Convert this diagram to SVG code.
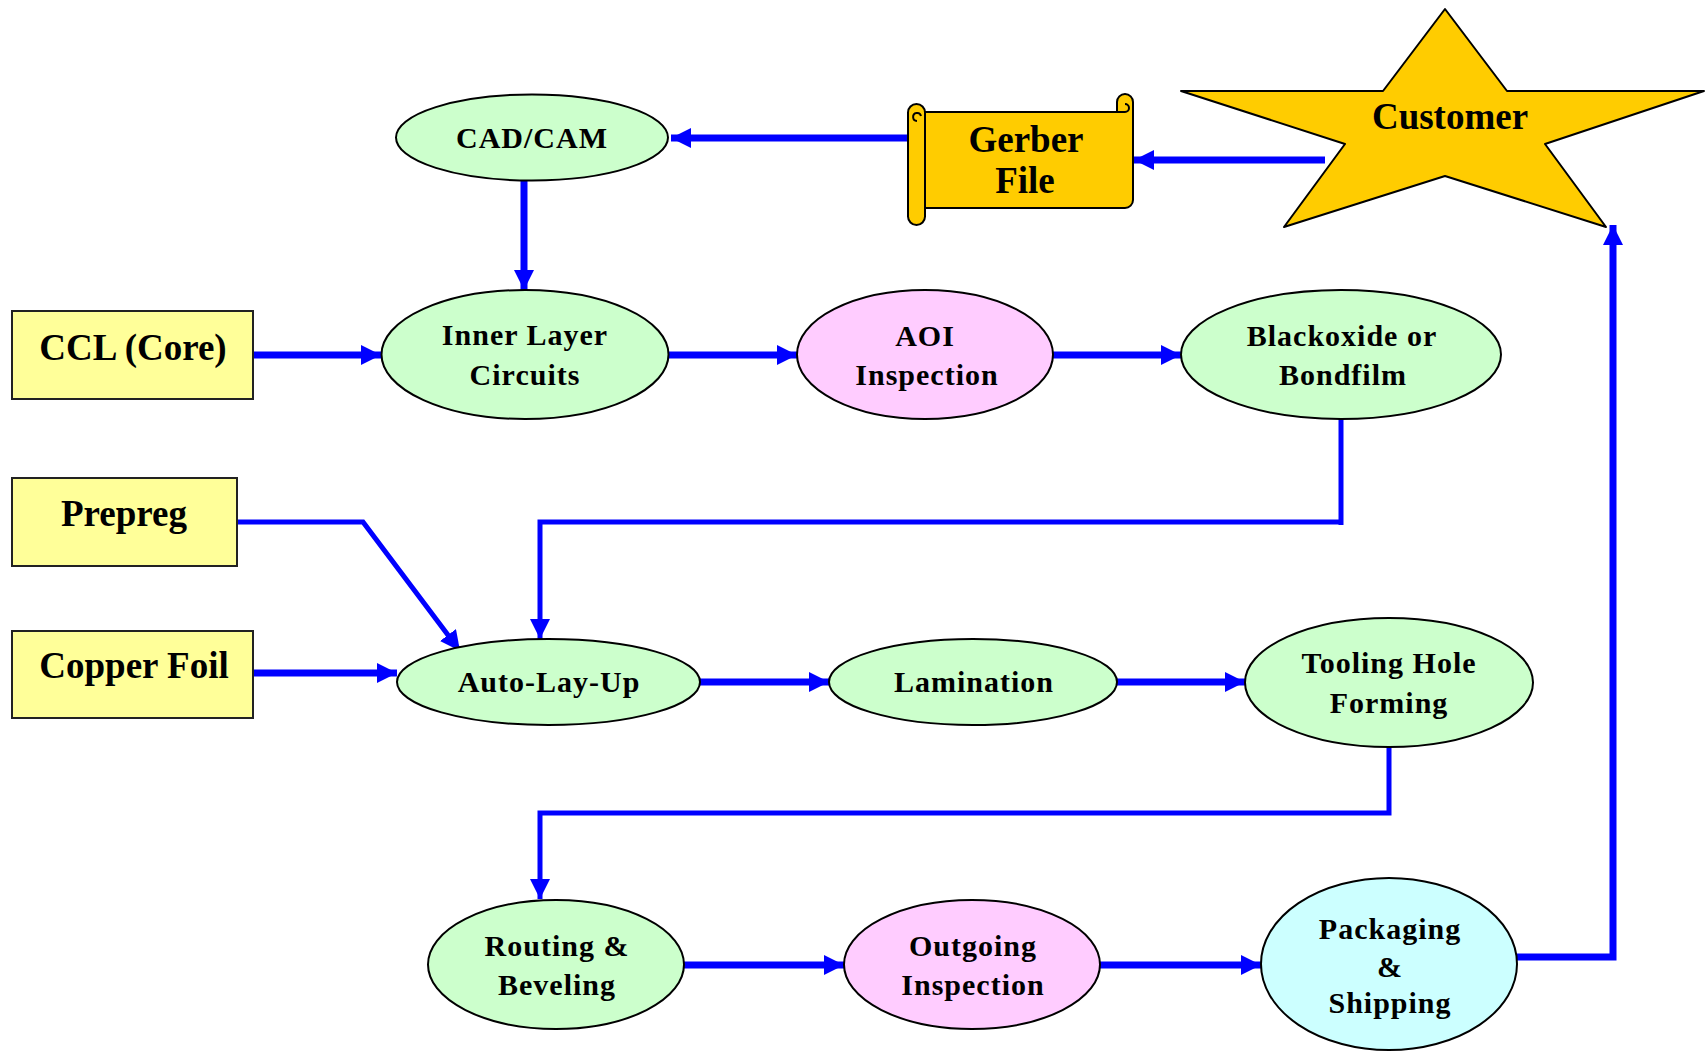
<svg xmlns="http://www.w3.org/2000/svg" width="1705" height="1053" viewBox="0 0 1705 1053">
<defs>
<style>
.box{fill:#FFFF99;stroke:#222;stroke-width:2}
.g{fill:#CCFFCC;stroke:#000;stroke-width:2}
.p{fill:#FFCCFF;stroke:#000;stroke-width:2}
.c{fill:#CCFFFF;stroke:#000;stroke-width:2}
.gold{fill:#FFCC00;stroke:#000;stroke-width:2;stroke-linejoin:round}
.t{font-family:"Liberation Serif","Times New Roman",serif;font-weight:bold;font-size:30px;letter-spacing:1px;text-anchor:middle;fill:#000}
.tb{font-family:"Liberation Serif","Times New Roman",serif;font-weight:bold;font-size:37px;text-anchor:middle;fill:#000}
.a{fill:none;stroke:#0000FF;stroke-width:7;marker-end:url(#ah)}
.l{fill:none;stroke:#0000FF;stroke-width:5}
.la{fill:none;stroke:#0000FF;stroke-width:5;marker-end:url(#ah)}
</style>
<marker id="ah" markerUnits="userSpaceOnUse" markerWidth="20" markerHeight="20" refX="20" refY="10" orient="auto" viewBox="0 0 20 20">
<path d="M0,0 L20,10 L0,20 Z" fill="#0000FF"/>
</marker>
</defs>

<g id="connectors">
<path class="a" d="M908,138 H671"/>
<path class="a" d="M1325,160 H1134"/>
<path class="a" d="M524,181 V290"/>
<path class="a" d="M253,355 H381"/>
<path class="a" d="M669,355 H797"/>
<path class="a" d="M1053,355 H1181"/>
<path class="l" d="M1341,419 V525"/>
<path class="la" d="M1341,522 H540 V639"/>
<path class="la" d="M237,522 H363 L460,651"/>
<path class="a" d="M253,673 H397"/>
<path class="a" d="M700,682 H829"/>
<path class="a" d="M1117,682 H1245"/>
<path class="la" d="M1389,747 V813 H540 V899"/>
<path class="a" d="M684,965 H844"/>
<path class="a" d="M1100,965 H1261"/>
<path class="a" d="M1517,957 H1613 V225"/>
</g>

<g id="customer">
<polygon class="gold" points="1445,9 1383,91 1181,91 1345,144 1284,227 1445,176 1606,227 1545,144 1704,91 1507,91"/>
<text class="tb" x="1450" y="129">Customer</text>
</g>

<g id="gerber">
<path class="gold" d="M925,112 H1117 V102 A8,8 0 0 1 1133,102 V200 A8,8 0 0 1 1125,208 H925 Z"/>
<path d="M1117,112 H1125 A4,4 0 0 0 1125,104" fill="none" stroke="#000" stroke-width="2"/>
<rect class="gold" x="908" y="104" width="17" height="121" rx="8.5"/>
<path d="M917,121 A4,4 0 1 1 921,116" fill="none" stroke="#000" stroke-width="2"/>
<text class="tb" x="1026" y="152">Gerber</text>
<text class="tb" x="1025" y="193">File</text>
</g>

<g id="cadcam">
<ellipse class="g" cx="532" cy="137.5" rx="136" ry="43"/>
<text class="t" x="532" y="148">CAD/CAM</text>
</g>

<g id="ccl">
<rect class="box" x="12" y="311" width="241" height="88"/>
<text class="tb" x="133" y="360">CCL (Core)</text>
</g>

<g id="inner">
<ellipse class="g" cx="525" cy="354.5" rx="143.5" ry="64.5"/>
<text class="t" x="525" y="345">Inner Layer</text>
<text class="t" x="525" y="385">Circuits</text>
</g>

<g id="aoi">
<ellipse class="p" cx="925" cy="354.5" rx="128" ry="64.5"/>
<text class="t" x="925" y="346">AOI</text>
<text class="t" x="927" y="385">Inspection</text>
</g>

<g id="blackoxide">
<ellipse class="g" cx="1341" cy="354.5" rx="160" ry="64.5"/>
<text class="t" x="1342" y="346">Blackoxide or</text>
<text class="t" x="1343" y="385">Bondfilm</text>
</g>

<g id="prepreg">
<rect class="box" x="12" y="478" width="225" height="88"/>
<text class="tb" x="124" y="526">Prepreg</text>
</g>

<g id="copperfoil">
<rect class="box" x="12" y="631" width="241" height="87"/>
<text class="tb" x="134" y="678">Copper Foil</text>
</g>

<g id="autolayup">
<ellipse class="g" cx="548.5" cy="682" rx="151.5" ry="43"/>
<text class="t" x="549" y="692">Auto-Lay-Up</text>
</g>

<g id="lamination">
<ellipse class="g" cx="973" cy="682" rx="144" ry="43"/>
<text class="t" x="974" y="692">Lamination</text>
</g>

<g id="tooling">
<ellipse class="g" cx="1389" cy="682.5" rx="144" ry="64.5"/>
<text class="t" x="1389" y="673">Tooling Hole</text>
<text class="t" x="1389" y="713">Forming</text>
</g>

<g id="routing">
<ellipse class="g" cx="556" cy="964.5" rx="128" ry="64.5"/>
<text class="t" x="557" y="956">Routing &amp;</text>
<text class="t" x="557" y="995">Beveling</text>
</g>

<g id="outgoing">
<ellipse class="p" cx="972" cy="964.5" rx="128" ry="64.5"/>
<text class="t" x="973" y="956">Outgoing</text>
<text class="t" x="973" y="995">Inspection</text>
</g>

<g id="packaging">
<ellipse class="c" cx="1389" cy="964" rx="128" ry="86"/>
<text class="t" x="1390" y="939">Packaging</text>
<text class="t" x="1390" y="977">&amp;</text>
<text class="t" x="1390" y="1013">Shipping</text>
</g>
</svg>
